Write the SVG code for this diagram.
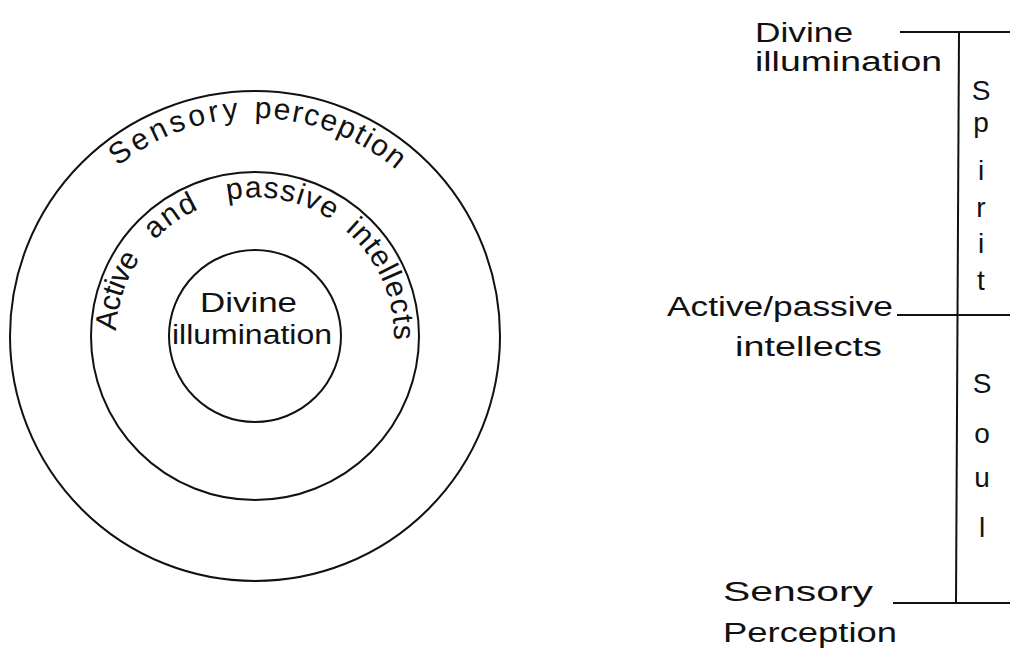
<svg xmlns="http://www.w3.org/2000/svg" width="1010" height="650" viewBox="0 0 1010 650">
<style>
.ln{fill:none;stroke:#111;stroke-width:2}
.t{font-family:"Liberation Sans","DejaVu Sans",sans-serif;fill:#111;font-size:27px}
.a{font-family:"Liberation Sans","DejaVu Sans",sans-serif;fill:#111;font-size:30px}
.v{font-family:"Liberation Sans","DejaVu Sans",sans-serif;fill:#111;font-size:28px;text-anchor:middle}
</style>
<defs>
<path id="arcOuter" d="M 37,336 A 218 218 0 0 1 473,336"/>
<path id="arcMid" d="M 116.5,348.1 A 139 139 0 1 1 393.5,348.1"/>
</defs>
<rect width="1010" height="650" fill="#fff"/>
<g id="ring-outer">
<circle class="ln" cx="255" cy="336" r="245"/>
<text class="a"><textPath href="#arcOuter" startOffset="194" textLength="132" lengthAdjust="spacing">Sensory</textPath></text>
<text class="a"><textPath href="#arcOuter" startOffset="342" textLength="154" lengthAdjust="spacing">perception</textPath></text>
</g>
<g id="ring-middle">
<circle class="ln" cx="255" cy="336" r="164"/>
<text class="a" font-size="29"><textPath href="#arcMid" startOffset="17" textLength="78" lengthAdjust="spacing">Active</textPath></text>
<text class="a" font-size="29"><textPath href="#arcMid" startOffset="118" textLength="54" lengthAdjust="spacing">and</textPath></text>
<text class="a" font-size="29"><textPath href="#arcMid" startOffset="202" textLength="109" lengthAdjust="spacing">passive</textPath></text>
<text class="a" font-size="29"><textPath href="#arcMid" startOffset="328" textLength="124" lengthAdjust="spacing">intellects</textPath></text>
</g>
<g id="ring-inner">
<circle class="ln" cx="255" cy="336" r="86"/>
<text class="t" x="200" y="312" font-size="26" textLength="97" lengthAdjust="spacingAndGlyphs">Divine</text>
<text class="t" x="172" y="344" font-size="24" textLength="160" lengthAdjust="spacingAndGlyphs">illumination</text>
</g>
<g id="connectors">
<line class="ln" x1="959" y1="32" x2="956" y2="603"/>
<line class="ln" x1="900" y1="32" x2="1010" y2="32"/>
<line class="ln" x1="897" y1="315" x2="1010" y2="315"/>
<line class="ln" x1="893" y1="603" x2="1010" y2="603"/>
</g>
<g id="label-divine">
<text class="t" x="755" y="42" font-size="25" textLength="98" lengthAdjust="spacingAndGlyphs">Divine</text>
<text class="t" x="755" y="71" font-size="25" textLength="187" lengthAdjust="spacingAndGlyphs">illumination</text>
</g>
<g id="label-active">
<text class="t" x="667" y="316" textLength="226" lengthAdjust="spacingAndGlyphs">Active/passive</text>
<text class="t" x="735" y="356" textLength="147" lengthAdjust="spacingAndGlyphs">intellects</text>
</g>
<g id="label-sensory">
<text class="t" x="723" y="601" textLength="150" lengthAdjust="spacingAndGlyphs">Sensory</text>
<text class="t" x="723" y="642" textLength="174" lengthAdjust="spacingAndGlyphs">Perception</text>
</g>
<g id="spirit">
<text class="v" x="981" y="100">S</text>
<text class="v" x="981" y="132">p</text>
<text class="v" x="981" y="180">i</text>
<text class="v" x="981" y="217">r</text>
<text class="v" x="981" y="253">i</text>
<text class="v" x="981" y="290">t</text>
</g>
<g id="soul">
<text class="v" x="982" y="393">S</text>
<text class="v" x="982" y="443">o</text>
<text class="v" x="982" y="487">u</text>
<text class="v" x="982" y="537">l</text>
</g>
</svg>
